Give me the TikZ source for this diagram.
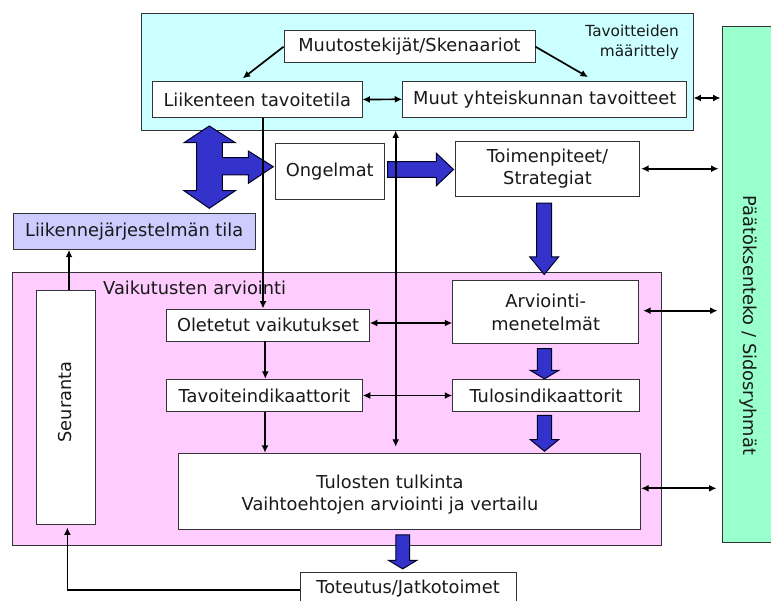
\documentclass[tikz,border=0pt]{standalone}
\usepackage{fontspec}
\setmainfont{DejaVu Sans}
\usetikzlibrary{calc,arrows.meta}

\definecolor{goalfill}{HTML}{CCFFFF}
\definecolor{decfill}{HTML}{99FFCC}
\definecolor{assessfill}{HTML}{FFCCFF}
\definecolor{statefill}{HTML}{CCCCFF}
\definecolor{blockblue}{HTML}{3333CC}
\definecolor{framegray}{HTML}{333333}

\tikzset{
  every node/.style={font=\fontsize{17.8}{22.7}\selectfont, text=black!90, inner sep=0pt},
  box/.style={draw=framegray, fill=white, line width=0.9pt},
  area/.style={draw=framegray, line width=0.9pt},
  link/.style={line width=1.7pt, -{Latex[length=7.5pt,width=7pt]}},
  twoway/.style={line width=1.7pt, {Latex[length=7.5pt,width=7pt]}-{Latex[length=7.5pt,width=7pt]}},
  fatarrow/.style={fill=blockblue, draw=black!85!blue, line width=1pt, line join=miter},
}

% block arrow pointing down: tail, tip, half shaft, half head, head length
\newcommand\fatdown[5]{%
  \draw[fatarrow] let \p1=#1, \p2=#2 in
    (\x1-#3pt,\y1) -- (\x1-#3pt,\y2+#5pt) -- (\x1-#4pt,\y2+#5pt) -- (\x1,\y2)
    -- (\x1+#4pt,\y2+#5pt) -- (\x1+#3pt,\y2+#5pt) -- (\x1+#3pt,\y1) -- cycle;}
% block arrow pointing right: tail, tip, half shaft, half head, head length
\newcommand\fatright[5]{%
  \draw[fatarrow] let \p1=#1, \p2=#2 in
    (\x1,\y1-#3pt) -- (\x2-#5pt,\y1-#3pt) -- (\x2-#5pt,\y1-#4pt) -- (\x2,\y1)
    -- (\x2-#5pt,\y1+#4pt) -- (\x2-#5pt,\y1+#3pt) -- (\x1,\y1+#3pt) -- cycle;}

\begin{document}
\begin{tikzpicture}[x=1pt,y=-1pt]
\useasboundingbox (0,0) rectangle (771,601);

% framing areas
\node[area, fill=goalfill, minimum width=552pt, minimum height=117pt] (goals) at (417,71.5) {};
\node[area, fill=decfill, minimum width=60pt, minimum height=516pt] (dec) at (752,284) {};
\node[area, fill=assessfill, minimum width=649.2pt, minimum height=272.7pt] (assess) at (337.1,408.7) {};

\node[font=\fontsize{15.3}{20}\selectfont, align=right, anchor=east] (goalslabel) at (679,42.2) {Tavoitteiden\\määrittely};
\node[rotate=-90] (dectext) at (748,325.5) {Päätöksenteko / Sidosryhmät};
\node[anchor=west] (assesslabel) at (103,287.5) {Vaikutusten arviointi};

% boxes
\node[box, minimum width=251pt, minimum height=32pt] (muutos) at (409.5,46.7) {Muutostekijät/Skenaariot};
\node[box, minimum width=209.3pt, minimum height=36.4pt] (liik) at (257.3,99.5) {Liikenteen tavoitetila};
\node[box, minimum width=284pt, minimum height=36.5pt] (muut) at (544.7,99.3) {Muut yhteiskunnan tavoitteet};
\node[box, minimum width=108.3pt, minimum height=55.7pt] (ongelmat) at (329.8,171.2) {Ongelmat};
\node[box, fill=statefill, minimum width=241.7pt, minimum height=36pt] (lj) at (134.2,231.3) {Liikennejärjestelmän tila};
\node[box, minimum width=184.4pt, minimum height=55.3pt, align=center] (toimen) at (547.5,168.7) {Toimenpiteet/\\Strategiat};

\node[box, minimum width=59.7pt, minimum height=234pt] (seuranta) at (65.8,407) {};
\node[rotate=90] (seurantatext) at (65,402) {Seuranta};
\node[box, minimum width=202.6pt, minimum height=32pt] (oletetut) at (268,325) {Oletetut vaikutukset};
\node[box, minimum width=195.6pt, minimum height=32.4pt] (tavoiteind) at (264.5,395.5) {Tavoiteindikaattorit};
\node[box, minimum width=186pt, minimum height=63.3pt, align=center] (arviointi) at (545.7,312.3) {Arviointi-\\menetelmät};
\node[box, minimum width=186.6pt, minimum height=32.4pt] (tulosind) at (546,395.5) {Tulosindikaattorit};
\node[box, minimum width=462.6pt, minimum height=76pt] (tulosten) at (409.3,491.3) {};
\node[align=center] (tulostentext) at (390,494.5) {Tulosten tulkinta\\Vaihtoehtojen arviointi ja vertailu};
\node[box, minimum width=216.2pt, minimum height=31.8pt] (toteutus) at (408.1,588.6) {Toteutus/Jatkotoimet};

% block arrows
\draw[fatarrow] (209.3,126) -- (235.3,142.7) -- (222.3,142.7) -- (222.3,157.7)
  -- (248.3,157.7) -- (248.3,151) -- (273.3,166.7) -- (248.3,183.3) -- (248.3,175)
  -- (222.3,175) -- (222.3,190.7) -- (235.3,190.7) -- (209.3,208.3) -- (184,190.7)
  -- (196.7,190.7) -- (196.7,142.7) -- (184,142.7) -- cycle;
\fatright{($(ongelmat.east)+(3.3,-1.7)$)}{($(toimen.west)+(-1.3,0)$)}{7.8}{16.3}{17.3}
\fatdown{($(toimen.south)+(-3.3,6.4)$)}{($(arviointi.north)+(0,-5.7)$)}{7.5}{14.5}{17.7}
\fatdown{($(arviointi.south)+(-1.2,4.3)$)}{(tulosind.north)}{7.2}{14.3}{8.5}
\fatdown{($(tulosind.south)+(-1.5,3.3)$)}{($(tulosten.north)+(0,-1.6)$)}{7.2}{14.3}{11.7}
\fatdown{($(tulosten.south)+(-6.6,5)$)}{($(toteutus.north)+(0,-3.4)$)}{6.9}{14.3}{8.6}

% connectors
\draw[link] (muutos.west) -- ($(liik.north)+(-14.6,-2.5)$);
\draw[link] (muutos.east) -- ($(muut.north)+(43.3,-3.5)$);
\draw[twoway] (liik.east) -- (muut.west);
\draw[twoway, shorten >=1pt] (goals.east |- 0,98) -- (dec.west |- 0,98);
\draw[link] ($(liik.south)+(5.7,0)$) -- ($(oletetut.north)+(-5,0)$);
\coordinate (vx) at (395.7,0);
\draw[twoway, shorten >=6pt] (goals.south -| vx) -- (tulosten.north -| vx);
\draw[twoway] ($(oletetut.east)+(0,-2)$) -- ($(arviointi.west |- oletetut.east)+(0,-2)$);
\draw[twoway] (tavoiteind.east) -- (tulosind.west);
\draw[link] ($(oletetut.south)+(-2.7,0)$) -- ($(tavoiteind.north)+(0.8,0)$);
\draw[link] ($(tavoiteind.south)+(0.5,0)$) -- (tulosten.north -| 265,0);
\draw[twoway, shorten <=1pt, shorten >=3pt] (toimen.east) -- (dec.west |- toimen.east);
\draw[twoway, shorten <=4pt, shorten >=4pt] ($(arviointi.east)+(0,-1.6)$) -- ($(dec.west |- arviointi.east)+(0,-1.6)$);
\draw[twoway, shorten >=5pt] ($(tulosten.east)+(0,-3)$) -- ($(dec.west |- tulosten.east)+(0,-3)$);
\draw[link] ($(seuranta.north)+(3.2,0)$) -- (lj.south -| 69,0);
\draw[link, shorten >=3pt] ($(toteutus.west)+(0,1.4)$) -| ($(seuranta.south)+(1.6,0)$);
\end{tikzpicture}
\end{document}
